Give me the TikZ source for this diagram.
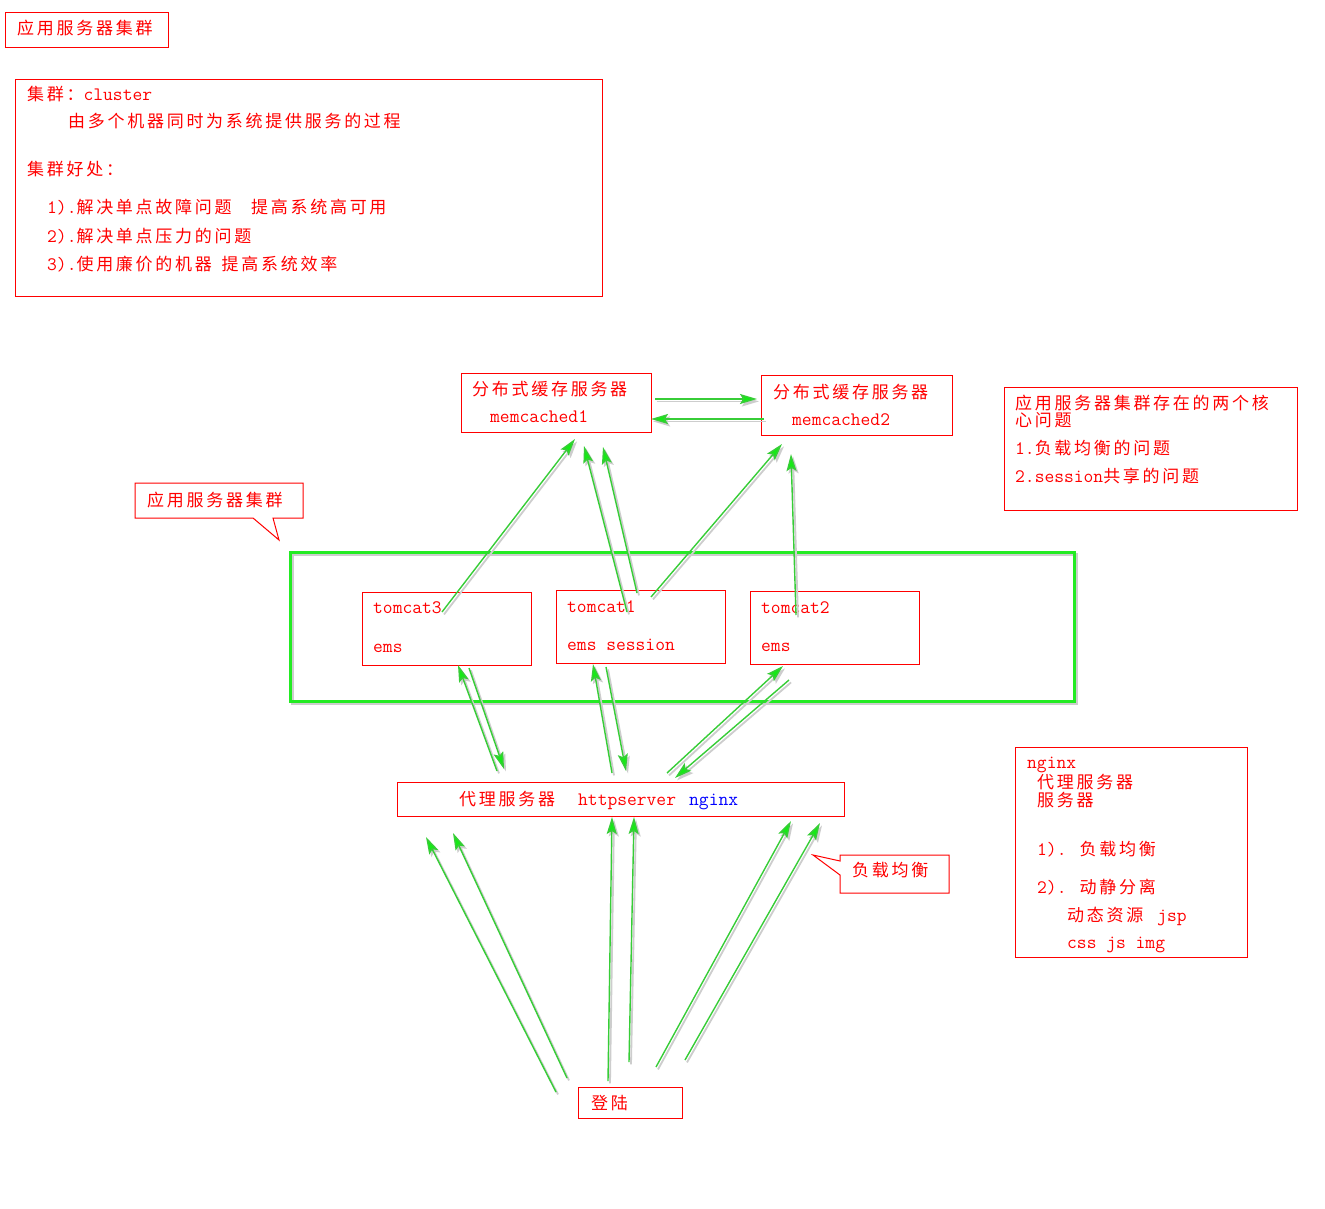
\documentclass[tikz,border=0pt]{standalone}
\usepackage{fontspec}
\newfontfamily\zhfont[LetterSpace=16]{Noto Sans CJK SC}
\newcommand\zh[1]{{\fontsize{17}{18}\zhfont #1}}
\usetikzlibrary{arrows.meta}
\definecolor{rd}{RGB}{255,0,0}
\definecolor{ln}{RGB}{55,205,55}
\definecolor{hd}{RGB}{20,235,20}
\definecolor{gb}{RGB}{35,235,35}
\definecolor{shd}{RGB}{205,205,205}
\definecolor{bl}{RGB}{0,0,255}
\begin{document}
\begin{tikzpicture}[x=1pt,y=-1pt,
  box/.style={draw=rd, line width=1pt, inner sep=0pt, anchor=north west},
  txt/.style={anchor=base west, inner sep=0pt, text=rd, font=\ttfamily\fontsize{19}{20}\selectfont},
  arr/.style={draw=ln, line width=1.4pt, -{Stealth[length=17pt,width=10pt,inset=3pt,fill=hd]},
    preaction={draw=shd, line width=1.8pt, -{Stealth[length=17pt,width=10pt,inset=3pt]},
      transform canvas={shift={(2pt,-2.4pt)}}}},
  callout/.style={draw=rd, line width=1pt, fill=white, line join=miter}
]
\fill[white] (0,0) rectangle (1325,1209);
\useasboundingbox (0,0) rectangle (1325,1209);

% ---------- boxes ----------
\node[box, minimum width=163pt, minimum height=35pt] (b0) at (5,12) {};
\node[box, minimum width=587pt, minimum height=217pt] (cl) at (15,79) {};
\node[box, minimum width=190pt, minimum height=59pt] (mc1) at (461,373) {};
\node[box, minimum width=191pt, minimum height=60pt] (mc2) at (761,375) {};
\node[box, minimum width=293pt, minimum height=123pt] (core) at (1004,387) {};
% green cluster frame with shadow
\draw[shd, line width=3pt, transform canvas={shift={(3pt,-3pt)}}] (289,551) rectangle (1073,700);
\node[box, draw=gb, line width=3pt, minimum width=784pt, minimum height=149pt] (grn) at (289,551) {};
\node[box, minimum width=169pt, minimum height=73pt] (tc3) at (362,592) {};
\node[box, minimum width=169pt, minimum height=73pt] (tc1) at (556,590) {};
\node[box, minimum width=169pt, minimum height=73pt] (tc2) at (750,591) {};
\node[box, minimum width=447pt, minimum height=34pt] (ngx) at (397,782) {};
\node[box, minimum width=232pt, minimum height=210pt] (info) at (1015,747) {};
\node[box, minimum width=104pt, minimum height=31pt] (login) at (578,1087) {};

% ---------- callouts ----------
\draw[callout] (135,483) -- (303,483) -- (303,518) -- (273,518) -- (279,540) -- (253,518) -- (135,518) -- cycle;
\draw[callout] (840,855) -- (949,855) -- (949,893) -- (840,893) -- (840,875) -- (813,855) -- (840,861) -- cycle;

% ---------- texts ----------
\node[txt] (t0) at (17,35) {\zh{应用服务器集群}};
\node[txt] (c1) at (27,101) {\zh{集群：}cluster};
\node[txt] (c2) at (68,128) {\zh{由多个机器同时为系统提供服务的过程}};
\node[txt] (c3) at (27,176) {\zh{集群好处：}};
\node[txt] (c4) at (47,214) {1).\zh{解决单点故障问题}\ \ \zh{提高系统高可用}};
\node[txt] (c5) at (47,242) {2).\zh{解决单点压力的问题}};
\node[txt] (c6) at (47,270) {3).\zh{使用廉价的机器}\ \zh{提高系统效率}};

\node[txt] (m1a) at (472,395) {\zh{分布式缓存服务器}};
\node[txt] (m1b) at (490,422) {memcached1};
\node[txt] (m2a) at (773,398) {\zh{分布式缓存服务器}};
\node[txt] (m2b) at (792,425) {memcached2};

\node[txt] (k1) at (1015,409) {\zh{应用服务器集群存在的两个核}};
\node[txt] (k2) at (1015,426) {\zh{心问题}};
\node[txt] (k3) at (1015,454) {1.\zh{负载均衡的问题}};
\node[txt] (k4) at (1015,482) {2.session\zh{共享的问题}};

\node[txt] (ct1) at (147,506) {\zh{应用服务器集群}};

\node[txt] (tc3a) at (373,613) {tomcat3};
\node[txt] (tc3b) at (373,652) {ems};
\node[txt] (tc1a) at (567,612) {tomcat1};
\node[txt] (tc1b) at (567,650) {ems session};
\node[txt] (tc2a) at (761,613) {tomcat2};
\node[txt] (tc2b) at (761,651) {ems};

\node[txt] (n1) at (459,805) {\zh{代理服务器}};
\node[txt] (n2) at (578,805) {httpserver};
\node[txt, text=bl] (n3) at (689,805) {nginx};

\node[txt] (i1) at (1027,768) {nginx};
\node[txt] (i2) at (1037,788) {\zh{代理服务器}};
\node[txt] (i3) at (1037,806) {\zh{服务器}};
\node[txt] (i4) at (1037,855) {1). \zh{负载均衡}};
\node[txt] (i5) at (1037,893) {2). \zh{动静分离}};
\node[txt] (i6) at (1067,921) {\zh{动态资源}};
\node[txt] (i6b) at (1157,921) {jsp};
\node[txt] (i7) at (1067,948) {css js img};

\node[txt] (ct2) at (852,876) {\zh{负载均衡}};
\node[txt] (lg) at (591,1109) {\zh{登陆}};

% ---------- arrow end points ----------
\coordinate (m1s) at (655,399); \coordinate (m1e) at (757,399);
\coordinate (m2s) at (764,419); \coordinate (m2e) at (651,419);
\coordinate (u1s) at (442,612); \coordinate (u1e) at (575,439);
\coordinate (u2s) at (627,612); \coordinate (u2e) at (584,446);
\coordinate (u3s) at (637,593); \coordinate (u3e) at (603,447);
\coordinate (u4s) at (651,597); \coordinate (u4e) at (782,444);
\coordinate (u5s) at (796,615); \coordinate (u5e) at (791,454);
\coordinate (d1s) at (497,771); \coordinate (d1e) at (458,665);
\coordinate (d2s) at (469,668); \coordinate (d2e) at (504,769);
\coordinate (d3s) at (612,773); \coordinate (d3e) at (593,664);
\coordinate (d4s) at (606,667); \coordinate (d4e) at (626,771);
\coordinate (d5s) at (667,773); \coordinate (d5e) at (783,666);
\coordinate (d6s) at (789,680); \coordinate (d6e) at (675,778);
\coordinate (l1s) at (556,1092); \coordinate (l1e) at (426,837);
\coordinate (l2s) at (567,1078); \coordinate (l2e) at (453,833);
\coordinate (l3s) at (608,1081); \coordinate (l3e) at (612,817);
\coordinate (l4s) at (629,1062); \coordinate (l4e) at (634,817);
\coordinate (l5s) at (656,1067); \coordinate (l5e) at (791,821);
\coordinate (l6s) at (685,1060); \coordinate (l6e) at (820,823);

% ---------- arrows ----------
\foreach \a in {m1,m2,u1,u2,u3,u4,u5,d1,d2,d3,d4,d5,d6,l1,l2,l3,l4,l5,l6}
  \draw[arr] (\a s) -- (\a e);
\end{tikzpicture}
\end{document}
